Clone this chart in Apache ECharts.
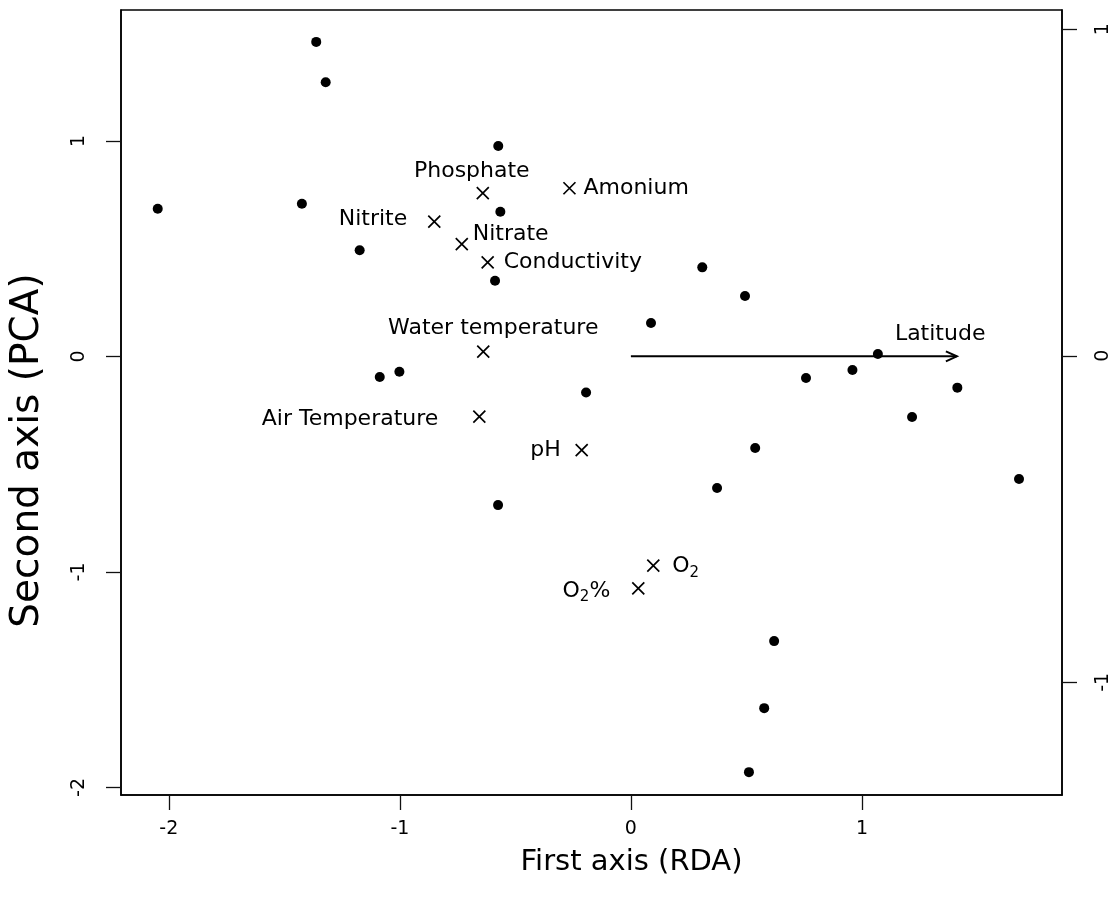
<!DOCTYPE html>
<html>
<head>
<meta charset="utf-8">
<script src="https://cdn.jsdelivr.net/npm/echarts@6/dist/echarts.min.js"></script>
<style>html,body{margin:0;padding:0;background:#fff;}#c{width:1112px;height:900px;}</style>
</head>
<body>
<div id="c"></div>
<script>
// ---- data ----
const siteX = [-1.362, -1.321, -0.574, -2.048, -1.424, -0.565, -1.174, -0.588, 0.309, 0.494, 0.087, 1.069, -1.087, -1.002, 0.758, 0.959, 1.413, -0.194, 1.217, 0.538, 1.680, 0.373, -0.575, 0.620, 0.577, 0.511];
const siteY = [1.459, 1.272, 0.976, 0.685, 0.708, 0.671, 0.492, 0.351, 0.413, 0.280, 0.155, 0.011, -0.096, -0.071, -0.100, -0.063, -0.145, -0.168, -0.281, -0.425, -0.569, -0.611, -0.690, -1.321, -1.632, -1.929];
const varNames = ['Phosphate', 'Amonium', 'Nitrite', 'Nitrate', 'Conductivity', 'Water temperature', 'Air Temperature', 'pH', 'O2', 'O2%'];
const varX = [-0.641, -0.266, -0.851, -0.732, -0.620, -0.639, -0.656, -0.213, 0.097, 0.032];
const varY = [0.757, 0.780, 0.625, 0.521, 0.436, 0.022, -0.280, -0.435, -0.971, -1.076];
const gradientName = 'Latitude';
const gradientStart = [0, 0];
const gradientEnd = [1.411, 0];
const xTicks = [-2, -1, 0, 1];
const yTicksLeft = [-2, -1, 0, 1];
const yTicksRight = [-1, 0, 1];
const xTitle = 'First axis (RDA)';
const yTitle = 'Second axis (PCA)';

// ---- style ----
const FONT = 'DejaVu Sans';
const labelPlacement = {
  'Phosphate': {align: 'center', offset: [-11, -22]},
  'Amonium': {align: 'left', offset: [14, 0]},
  'Nitrite': {align: 'right', offset: [-27, -2]},
  'Nitrate': {align: 'left', offset: [11, -10]},
  'Conductivity': {align: 'left', offset: [16, 0]},
  'Water temperature': {align: 'center', offset: [10, -23]},
  'Air Temperature': {align: 'right', offset: [-41, 3]},
  'pH': {align: 'right', offset: [-21, 0]},
  'O2': {align: 'left', offset: [19, 1]},
  'O2%': {align: 'right', offset: [-28, 3]}
};
function fmtName(n) {
  if (n === 'O2') return '{a|O}{b|2}';
  if (n === 'O2%') return '{a|O}{b|2}{a|%}';
  return '{a|' + n + '}';
}

const chart = echarts.init(document.getElementById('c'), null, {renderer: 'canvas'});
const axisCommon = {
  axisLine: {show: true, onZero: false, lineStyle: {color: '#000', width: 1.5}},
  axisTick: {show: true, length: 15, lineStyle: {color: '#111', width: 1.3}},
  splitLine: {show: false}
};
chart.setOption({
  animation: false,
  backgroundColor: '#fff',
  grid: {left: 121, top: 10, right: 50, bottom: 105, show: true, borderColor: '#000', borderWidth: 1.5, containLabel: false, outerBoundsMode: 'none'},
  xAxis: Object.assign({}, axisCommon, {
    type: 'value', min: -2.207, max: 1.866, position: 'bottom',
    axisTick: Object.assign({}, axisCommon.axisTick, {customValues: xTicks}),
    axisLabel: {customValues: xTicks, margin: 25, fontSize: 19, fontFamily: FONT, color: '#000', showMinLabel: true, showMaxLabel: true},
    name: xTitle, nameLocation: 'middle', nameGap: 53,
    nameTextStyle: {fontSize: 29, fontFamily: FONT, color: '#000', padding: [0, 0, 0, 80]}
  }),
  yAxis: [
    Object.assign({}, axisCommon, {
      type: 'value', min: -2.035, max: 1.607, position: 'left',
      axisTick: Object.assign({}, axisCommon.axisTick, {customValues: yTicksLeft}),
      axisLabel: {customValues: yTicksLeft, rotate: 90, margin: 32, fontSize: 19, fontFamily: FONT, color: '#000'},
      name: yTitle, nameLocation: 'middle', nameGap: 74,
      nameTextStyle: {fontSize: 39, fontFamily: FONT, color: '#000', padding: [0, 96, 0, 0]}
    }),
    Object.assign({}, axisCommon, {
      type: 'value', min: -1.345, max: 1.059, position: 'right',
      axisTick: Object.assign({}, axisCommon.axisTick, {customValues: yTicksRight}),
      axisLabel: {customValues: yTicksRight, rotate: 90, margin: 32, fontSize: 19, fontFamily: FONT, color: '#000'}
    })
  ],
  series: [
    {
      type: 'scatter', name: 'sites', xAxisIndex: 0, yAxisIndex: 0,
      symbol: 'circle', symbolSize: 10,
      itemStyle: {color: '#000', opacity: 1},
      data: siteX.map((x, i) => [x, siteY[i]])
    },
    {
      type: 'scatter', name: 'variables', xAxisIndex: 0, yAxisIndex: 0,
      symbol: 'path://M0,0L10,10M10,0L0,10', symbolSize: 12,
      itemStyle: {color: 'none', borderColor: '#000', borderWidth: 1.7, opacity: 1},
      data: varNames.map((n, i) => ({
        name: n, value: [varX[i], varY[i]],
        label: {
          show: true, position: 'inside', opacity: 1,
          align: labelPlacement[n].align, verticalAlign: 'middle',
          offset: labelPlacement[n].offset,
          formatter: fmtName(n),
          rich: {
            a: {fontSize: 22, fontFamily: FONT, color: '#000'},
            b: {fontSize: 15, fontFamily: FONT, color: '#000', padding: [12, 0, 0, 0]}
          }
        }
      }))
    },
    {
      type: 'custom', name: 'gradient', xAxisIndex: 0, yAxisIndex: 0,
      encode: {x: [0, 2], y: [1, 3]},
      data: [[gradientStart[0], gradientStart[1], gradientEnd[0], gradientEnd[1]]],
      renderItem: function (params, api) {
        const s = api.coord([api.value(0), api.value(1)]);
        const e = api.coord([api.value(2), api.value(3)]);
        return {
          type: 'group',
          children: [
            {type: 'line', shape: {x1: s[0], y1: s[1], x2: e[0], y2: e[1]}, style: {stroke: '#000', lineWidth: 2}},
            {type: 'polyline', shape: {points: [[e[0] - 11, e[1] - 5], [e[0], e[1]], [e[0] - 11, e[1] + 5]]}, style: {stroke: '#000', fill: null, lineWidth: 2}},
            {type: 'text', style: {text: gradientName, x: e[0] - 62, y: e[1] - 22, align: 'left', verticalAlign: 'middle', fontSize: 22, fontFamily: FONT, fill: '#000'}}
          ]
        };
      }
    }
  ]
});
</script>
</body>
</html>
